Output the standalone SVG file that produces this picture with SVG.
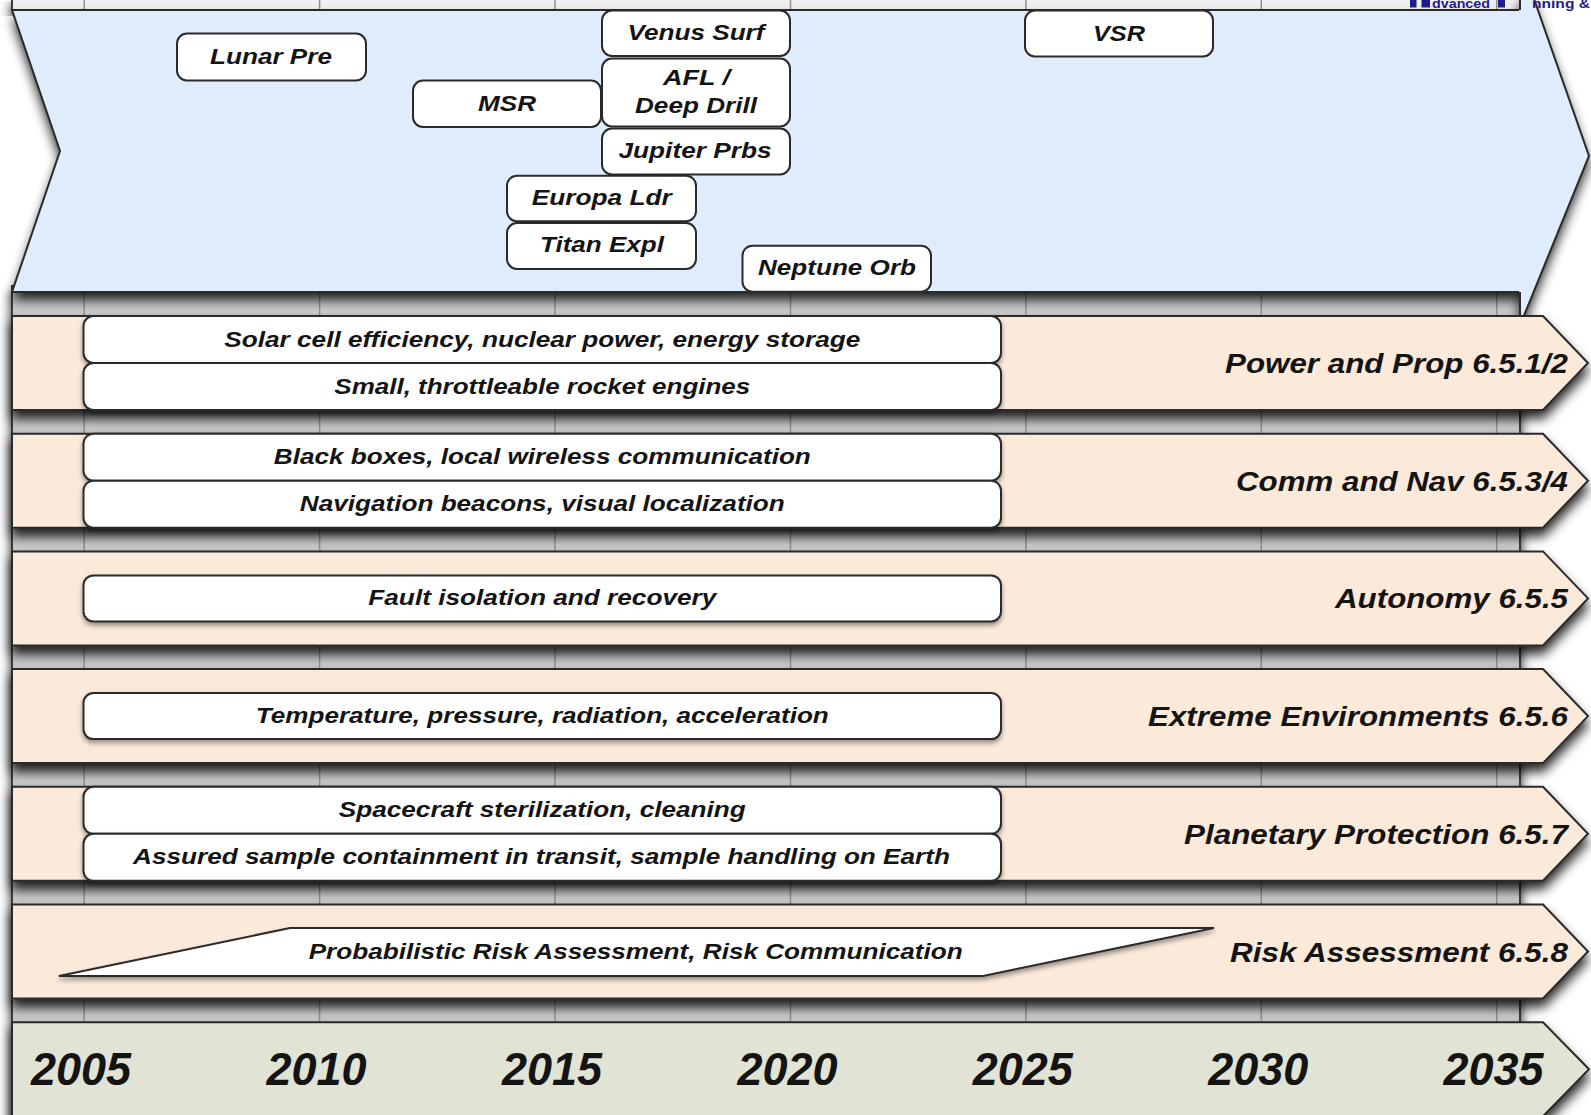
<svg xmlns="http://www.w3.org/2000/svg" width="1591" height="1115" viewBox="0 0 1591 1115">
<defs>
<style>
.band{fill:#fbe9da;stroke:#2a2a2a;stroke-width:2}
.yrband{fill:#e1e3d4;stroke:#2a2a2a;stroke-width:2}
.box{fill:#ffffff;stroke:#2a2a2a;stroke-width:2}
.edge{fill:none;stroke:#2a2a2a;stroke-width:2}
.grid{stroke:#8f8f8f;stroke-width:1.5}
text{font-family:"Liberation Sans",Arial,Helvetica,sans-serif;font-weight:bold;font-style:italic;fill:#141414}
.t{font-size:22px;text-anchor:middle}
.lbl{font-size:27px;text-anchor:end}
.yr{font-size:46px;text-anchor:middle}
.logo{font-size:13px;font-style:normal;fill:#1c1c8a}
</style>
<filter id="sh" x="-5%" y="-20%" width="110%" height="160%">
<feGaussianBlur in="SourceAlpha" stdDeviation="6"/>
<feOffset dx="0" dy="8"/>
<feComponentTransfer><feFuncA type="linear" slope="0.85"/></feComponentTransfer>
<feMerge><feMergeNode/><feMergeNode in="SourceGraphic"/></feMerge>
</filter>
<filter id="sh2" x="-5%" y="-20%" width="110%" height="160%">
<feGaussianBlur in="SourceAlpha" stdDeviation="2.5"/>
<feOffset dx="0" dy="3"/>
<feComponentTransfer><feFuncA type="linear" slope="0.4"/></feComponentTransfer>
<feMerge><feMergeNode/><feMergeNode in="SourceGraphic"/></feMerge>
</filter>
</defs>
<rect x="0" y="0" width="1591" height="1115" fill="#ffffff"/>

<g id="panel">
<rect x="12" y="-4" width="1508" height="14" fill="#efefef" stroke="#3a3a3a" stroke-width="2" filter="url(#sh)"/>
<rect x="12" y="286" width="1508" height="835" fill="#cacaca" stroke="#3a3a3a" stroke-width="2" filter="url(#sh)"/>
<g class="grid">
<line x1="84.2" y1="0" x2="84.2" y2="1115"/>
<line x1="319.6" y1="0" x2="319.6" y2="1115"/>
<line x1="555" y1="0" x2="555" y2="1115"/>
<line x1="790.5" y1="0" x2="790.5" y2="1115"/>
<line x1="1025.9" y1="0" x2="1025.9" y2="1115"/>
<line x1="1261.3" y1="0" x2="1261.3" y2="1115"/>
<line x1="1496.7" y1="0" x2="1496.7" y2="1115"/>
</g>
</g>

<g id="missions-band">
<polygon points="12,10 1519,10 1519,-4 1533,-4 1589,156 1523,318 1519,318 1519,292 12,292 60,151" fill="#dfecfc" filter="url(#sh)"/>
<path class="edge" d="M1519,10 L12,10 L60,151 L12,292 L1519,292"/>
<path class="edge" d="M1533,-4 L1589,156 L1523,318"/>
<path class="edge" d="M1520,-4 V10 M1520,292 V318"/>
</g>

<g id="band-power"><polygon class="band" filter="url(#sh)" points="12,316 1543,316 1588,363 1543,410 12,410"/>
<text class="lbl" x="1568" y="373" textLength="343" lengthAdjust="spacingAndGlyphs">Power and Prop 6.5.1/2</text></g>
<g id="band-comm"><polygon class="band" filter="url(#sh)" points="12,433.7 1543,433.7 1588,480.7 1543,527.7 12,527.7"/>
<text class="lbl" x="1568" y="490.7" textLength="332" lengthAdjust="spacingAndGlyphs">Comm and Nav 6.5.3/4</text></g>
<g id="band-autonomy"><polygon class="band" filter="url(#sh)" points="12,551.4 1543,551.4 1588,598.4 1543,645.4 12,645.4"/>
<text class="lbl" x="1568" y="608.4" textLength="233" lengthAdjust="spacingAndGlyphs">Autonomy 6.5.5</text></g>
<g id="band-extreme"><polygon class="band" filter="url(#sh)" points="12,669.1 1543,669.1 1588,716.1 1543,763.1 12,763.1"/>
<text class="lbl" x="1568" y="726.1" textLength="420" lengthAdjust="spacingAndGlyphs">Extreme Environments 6.5.6</text></g>
<g id="band-planetary"><polygon class="band" filter="url(#sh)" points="12,786.8 1543,786.8 1588,833.8 1543,880.8 12,880.8"/>
<text class="lbl" x="1568" y="843.8" textLength="384" lengthAdjust="spacingAndGlyphs">Planetary Protection 6.5.7</text></g>
<g id="band-risk"><polygon class="band" filter="url(#sh)" points="12,904.5 1543,904.5 1588,951.5 1543,998.5 12,998.5"/>
<text class="lbl" x="1568" y="961.5" textLength="338" lengthAdjust="spacingAndGlyphs">Risk Assessment 6.5.8</text></g>
<g id="band-years"><polygon class="yrband" filter="url(#sh)" points="12,1022.2 1543,1022.2 1589,1069.2 1543,1116.2 12,1116.2"/>
<text class="yr" x="81" y="1085" textLength="100" lengthAdjust="spacingAndGlyphs">2005</text>
<text class="yr" x="316.6" y="1085" textLength="100" lengthAdjust="spacingAndGlyphs">2010</text>
<text class="yr" x="552" y="1085" textLength="100" lengthAdjust="spacingAndGlyphs">2015</text>
<text class="yr" x="787.4" y="1085" textLength="100" lengthAdjust="spacingAndGlyphs">2020</text>
<text class="yr" x="1022.8" y="1085" textLength="100" lengthAdjust="spacingAndGlyphs">2025</text>
<text class="yr" x="1258.2" y="1085" textLength="100" lengthAdjust="spacingAndGlyphs">2030</text>
<text class="yr" x="1493.6" y="1085" textLength="100" lengthAdjust="spacingAndGlyphs">2035</text></g>

<g id="item-solar"><rect class="box" filter="url(#sh2)" x="83.5" y="316" width="917.5" height="47" rx="10"/>
<text class="t" x="542.3" y="346.5" textLength="636" lengthAdjust="spacingAndGlyphs">Solar cell efficiency, nuclear power, energy storage</text></g>
<g id="item-engines"><rect class="box" filter="url(#sh2)" x="83.5" y="363" width="917.5" height="47" rx="10"/>
<text class="t" x="542.3" y="393.5" textLength="416" lengthAdjust="spacingAndGlyphs">Small, throttleable rocket engines</text></g>
<g id="item-blackbox"><rect class="box" filter="url(#sh2)" x="83.5" y="433.7" width="917.5" height="47" rx="10"/>
<text class="t" x="542.3" y="464.2" textLength="537" lengthAdjust="spacingAndGlyphs">Black boxes, local wireless communication</text></g>
<g id="item-nav"><rect class="box" filter="url(#sh2)" x="83.5" y="480.7" width="917.5" height="47" rx="10"/>
<text class="t" x="542.3" y="511.2" textLength="485" lengthAdjust="spacingAndGlyphs">Navigation beacons, visual localization</text></g>
<g id="item-fault"><rect class="box" filter="url(#sh2)" x="83.5" y="575.4" width="917.5" height="46" rx="10"/>
<text class="t" x="542.3" y="605.4" textLength="348" lengthAdjust="spacingAndGlyphs">Fault isolation and recovery</text></g>
<g id="item-temp"><rect class="box" filter="url(#sh2)" x="83.5" y="693.1" width="917.5" height="46" rx="10"/>
<text class="t" x="542.3" y="723.1" textLength="573" lengthAdjust="spacingAndGlyphs">Temperature, pressure, radiation, acceleration</text></g>
<g id="item-steril"><rect class="box" filter="url(#sh2)" x="83.5" y="786.8" width="917.5" height="47" rx="10"/>
<text class="t" x="542.3" y="817.3" textLength="407" lengthAdjust="spacingAndGlyphs">Spacecraft sterilization, cleaning</text></g>
<g id="item-sample"><rect class="box" filter="url(#sh2)" x="83.5" y="833.8" width="917.5" height="47" rx="10"/>
<text class="t" x="541.5" y="864.3" textLength="817" lengthAdjust="spacingAndGlyphs">Assured sample containment in transit, sample handling on Earth</text></g>
<g id="item-pra"><polygon class="box" filter="url(#sh2)" points="59,976 290,928 1214,928 983,976"/>
<text class="t" x="635.7" y="958.5" textLength="654" lengthAdjust="spacingAndGlyphs">Probabilistic Risk Assessment, Risk Communication</text></g>

<g id="ms-lunar"><rect class="box" x="177" y="33.5" width="189" height="47" rx="10"/>
<text class="t" x="271" y="63.5" textLength="122" lengthAdjust="spacingAndGlyphs">Lunar Pre</text></g>
<g id="ms-msr"><rect class="box" x="413" y="80.5" width="188" height="46.5" rx="10"/>
<text class="t" x="507" y="111" textLength="58" lengthAdjust="spacingAndGlyphs">MSR</text></g>
<g id="ms-venus"><rect class="box" x="602" y="10.5" width="188" height="45.5" rx="10"/>
<text class="t" x="696" y="40" textLength="137" lengthAdjust="spacingAndGlyphs">Venus Surf</text></g>
<g id="ms-afl"><rect class="box" x="602" y="58.5" width="188" height="68" rx="10"/>
<text class="t" x="696.5" y="85" textLength="67" lengthAdjust="spacingAndGlyphs">AFL /</text>
<text class="t" x="696" y="113.3" textLength="122" lengthAdjust="spacingAndGlyphs">Deep Drill</text></g>
<g id="ms-jupiter"><rect class="box" x="602" y="128.5" width="188" height="46" rx="10"/>
<text class="t" x="695" y="157.5" textLength="153" lengthAdjust="spacingAndGlyphs">Jupiter Prbs</text></g>
<g id="ms-europa"><rect class="box" x="507" y="175.7" width="189" height="45.5" rx="10"/>
<text class="t" x="601.7" y="204.5" textLength="140" lengthAdjust="spacingAndGlyphs">Europa Ldr</text></g>
<g id="ms-titan"><rect class="box" x="507" y="223" width="189" height="46" rx="10"/>
<text class="t" x="602" y="252" textLength="124" lengthAdjust="spacingAndGlyphs">Titan Expl</text></g>
<g id="ms-neptune"><rect class="box" x="742.5" y="245.7" width="188.5" height="46" rx="10"/>
<text class="t" x="837" y="275" textLength="158" lengthAdjust="spacingAndGlyphs">Neptune Orb</text></g>
<g id="ms-vsr"><rect class="box" x="1025" y="10.5" width="188" height="46" rx="10"/>
<text class="t" x="1119" y="40.5" textLength="52" lengthAdjust="spacingAndGlyphs">VSR</text></g>

<g id="logo-fragment">
<rect x="1410" y="0" width="6.5" height="7.5" fill="#1c1c8a"/>
<rect x="1421.5" y="0" width="8.5" height="7.5" fill="#1c1c8a"/>
<rect x="1498" y="0" width="7" height="7.5" fill="#1c1c8a"/>
<text class="logo" x="1432" y="8" textLength="58" lengthAdjust="spacingAndGlyphs">dvanced</text>
<text class="logo" x="1532" y="8" textLength="58" lengthAdjust="spacingAndGlyphs">nning &amp;</text>
</g>
<g id="connectors"></g>
</svg>
